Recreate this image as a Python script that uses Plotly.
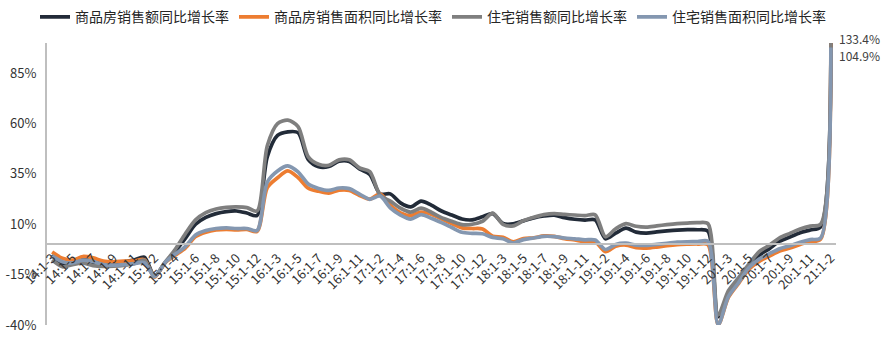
import plotly.graph_objects as go

# categories: cumulative months
categories = (
    ["14:1-%d" % m for m in range(3, 13)]
    + ["%d:1-%d" % (y, m) for y in range(15, 21) for m in range(2, 13)]
    + ["21:1-2"]
)

# 商品房销售额同比增长率 (%)
sales_amount = [
    -5.2, -9.9, -8.5, -6.7, -8.9, -8.9, -8.9, -8.6, -7.8, -6.3,
    -15.8, -9.3, -3.5, 3.0, 10.0, 13.4, 15.3, 16.3, 16.6, 15.6, 14.4,
    43.6, 54.1, 55.9, 55.5, 42.1, 38.6, 38.7, 41.3, 41.2, 37.5, 34.8,
    25.1, 25.1, 20.6, 18.6, 21.5, 19.5, 16.6, 14.6, 12.6, 12.2, 13.7,
    15.3, 10.4, 10.2, 11.7, 13.2, 14.1, 14.5, 13.3, 12.5, 12.1, 12.2,
    2.8, 5.6, 8.1, 6.1, 5.6, 6.2, 6.7, 7.1, 7.3, 7.3, 6.5,
    -35.9, -24.7, -18.6, -11.6, -5.4, -2.1, 1.6, 3.7, 5.8, 7.2, 8.7,
    133.4,
]

# 商品房销售面积同比增长率 (%)
sales_area = [
    -3.8, -6.9, -7.8, -6.0, -6.7, -8.3, -8.6, -8.3, -8.2, -7.6,
    -16.3, -9.2, -5.4, -1.8, 3.9, 6.1, 7.2, 7.5, 7.2, 7.4, 6.5,
    28.2, 33.1, 36.5, 33.2, 27.9, 26.4, 25.5, 26.9, 26.8, 24.3, 22.5,
    25.1, 19.5, 15.7, 14.3, 16.1, 15.0, 12.7, 10.3, 8.2, 7.9, 7.7,
    4.1, 3.6, 1.3, 2.9, 3.3, 4.2, 4.0, 2.9, 2.2, 1.4, 1.3,
    -3.6, -0.9, -0.3, -1.6, -1.8, -1.3, -0.6, -0.1, 0.1, 0.2, -0.1,
    -39.9, -26.3, -19.3, -12.3, -8.4, -5.8, -3.3, -1.8, 0.0, 1.3, 2.6,
    104.9,
]

# 住宅销售额同比增长率 (%)
resid_amount = [
    -7.7, -11.1, -10.0, -9.2, -10.5, -10.9, -10.8, -10.4, -9.6, -7.8,
    -15.6, -9.0, -2.6, 5.3, 12.2, 15.8, 17.6, 18.4, 18.6, 18.3, 16.6,
    49.0, 60.0, 61.7, 58.5, 43.5, 39.8, 39.3, 42.0, 42.0, 38.0, 36.1,
    24.5, 21.5, 18.0, 16.0, 18.0, 16.0, 13.3, 11.5, 9.8, 10.0, 11.5,
    15.5, 10.0, 9.2, 11.8, 13.5, 14.8, 15.3, 14.9, 14.6, 14.3, 14.7,
    3.8, 7.8, 10.3, 9.0, 8.6, 9.2, 9.8, 10.3, 10.6, 10.8, 10.3,
    -35.0, -23.0, -16.5, -9.8, -3.6, -0.4, 3.3, 5.5, 7.6, 9.1, 10.0,
    128.0,
]

# 住宅销售面积同比增长率 (%)
resid_area = [
    -5.7, -8.6, -9.2, -7.8, -8.5, -10.0, -10.3, -10.0, -9.5, -9.1,
    -16.0, -9.1, -4.9, -1.1, 4.7, 6.9, 7.9, 8.2, 7.9, 7.9, 6.9,
    31.0, 36.5, 39.0, 36.0, 30.0, 27.8, 26.8, 28.0, 27.7, 25.0, 22.4,
    24.0, 18.2, 14.6, 12.6, 14.8, 13.0, 10.8, 8.4, 6.0, 5.5, 5.3,
    3.5, 2.8, 0.7, 2.4, 3.2, 4.0, 3.9, 3.2, 2.8, 2.3, 2.2,
    -2.5, 0.0, 0.6, -0.4, -0.5, 0.0, 0.6, 1.1, 1.3, 1.4, 1.5,
    -39.9, -25.9, -18.9, -11.6, -7.3, -4.6, -2.1, -0.6, 1.1, 2.4, 3.2,
    97.8,
]

series_names = ["商品房销售额同比增长率", "商品房销售面积同比增长率",
                "住宅销售额同比增长率", "住宅销售面积同比增长率"]
series_values = [sales_amount, sales_area, resid_amount, resid_area]
series_colors = ["#222B38", "#ED7D31", "#7F7F7F", "#8497B0"]

y_ticks = [-40, -15, 10, 35, 60, 85]
y_min, y_max = -40, 100

FONT = "Noto Sans CJK SC"
x = list(range(len(categories)))

fig = go.Figure()
for name, vals, col in zip(series_names, series_values, series_colors):
    fig.add_trace(go.Scatter(
        x=x, y=vals, name=name, mode="lines",
        line=dict(color=col, width=3.7, shape="spline", smoothing=0.8),
    ))

zero_pos = (0 - y_min) / (y_max - y_min)

fig.update_layout(
    width=883, height=339,
    margin=dict(l=47, r=47, t=43, b=14, autoexpand=False),
    paper_bgcolor="white", plot_bgcolor="white",
    font=dict(family=FONT, size=13, color="#333333"),
    showlegend=True,
    legend=dict(
        orientation="h", xref="paper", yref="paper",
        x=-0.0152, xanchor="left", y=1.148, yanchor="top",
        font=dict(size=14, color="#262626", family=FONT),
        itemwidth=30, tracegroupgap=0, bgcolor="rgba(0,0,0,0)",
    ),
    xaxis=dict(
        range=[-0.5, len(categories) - 0.5],
        tickvals=x[::2], ticktext=categories[::2],
        tickangle=-45, tickfont=dict(size=13, color="#333333"),
        showgrid=False, zeroline=False,
        showline=True, linecolor="#BFBFBF", linewidth=2,
        anchor="free", position=zero_pos, ticks="",
    ),
    yaxis=dict(
        range=[y_min, y_max],
        tickvals=y_ticks, ticktext=["%d%%" % v for v in y_ticks],
        tickfont=dict(size=13, color="#333333"),
        showgrid=False, zeroline=False,
        showline=True, linecolor="#BFBFBF", linewidth=2,
        ticks="", ticklabelstandoff=6,
    ),
    annotations=[
        dict(x=x[-1], y=y_max, xref="x", yref="y", text="%.1f%%" % sales_amount[-1],
             showarrow=False, xanchor="left", yanchor="middle", xshift=6, yshift=5,
             font=dict(size=12, color="#404040")),
        dict(x=x[-1], y=y_max, xref="x", yref="y", text="%.1f%%" % sales_area[-1],
             showarrow=False, xanchor="left", yanchor="middle", xshift=6, yshift=-12,
             font=dict(size=12, color="#404040")),
    ],
)

fig.write_html("out.html")
